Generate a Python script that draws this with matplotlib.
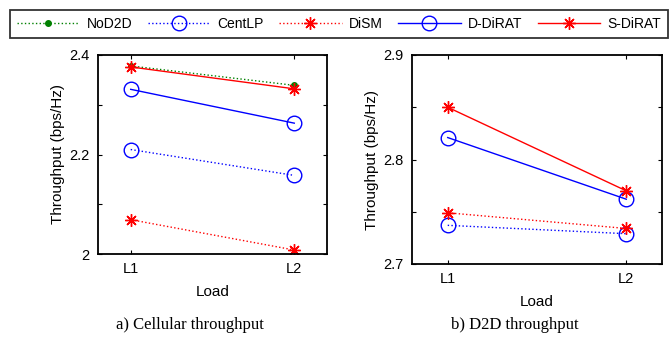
import matplotlib
matplotlib.use("Agg")
import matplotlib.pyplot as plt

plt.rcParams['font.family'] = ['Liberation Sans', 'DejaVu Sans']

loads = ["L1", "L2"]
x = [1, 2]

# Cellular throughput
cell_nod2d = [2.378, 2.339]
cell_centlp = [2.210, 2.158]
cell_dism = [2.069, 2.008]
cell_ddirat = [2.331, 2.263]
cell_sdirat = [2.376, 2.332]

# D2D throughput
d2d_centlp = [2.737, 2.729]
d2d_dism = [2.749, 2.734]
d2d_ddirat = [2.821, 2.762]
d2d_sdirat = [2.850, 2.770]

left_yticks = [2.0, 2.1, 2.2, 2.3, 2.4]
left_yticklabels = ["2", "", "2.2", "", "2.4"]
right_yticks = [2.7, 2.75, 2.8, 2.85, 2.9]
right_yticklabels = ["2.7", "", "2.8", "", "2.9"]

green = (0, 0.5, 0)
blue = (0, 0, 1)
red = (1, 0, 0)
ast = (8, 2, 0)

fig = plt.figure(figsize=(6.72, 3.37), dpi=100)
ax1 = fig.add_axes([98/672, 1-254/337, 229/672, 199/337])
ax2 = fig.add_axes([412/672, 1-264/337, 250/672, 209/337])

lw = 1.0
h1, = ax1.plot(x, cell_nod2d, ls=':', color=green, marker='o', ms=4, mfc=green, mec=green, lw=lw, label='NoD2D')
h2, = ax1.plot(x, cell_centlp, ls=':', color=blue, marker='o', ms=10.5, mfc='none', mec=blue, lw=lw, label='CentLP')
h3, = ax1.plot(x, cell_dism, ls=':', color=red, marker=ast, ms=9, mec=red, lw=lw, label='DiSM')
h4, = ax1.plot(x, cell_ddirat, ls='-', color=blue, marker='o', ms=10.5, mfc='none', mec=blue, lw=lw, label='D-DiRAT')
h5, = ax1.plot(x, cell_sdirat, ls='-', color=red, marker=ast, ms=9, mec=red, lw=lw, label='S-DiRAT')

ax2.plot(x, d2d_centlp, ls=':', color=blue, marker='o', ms=10.5, mfc='none', mec=blue, lw=lw)
ax2.plot(x, d2d_dism, ls=':', color=red, marker=ast, ms=9, mec=red, lw=lw)
ax2.plot(x, d2d_ddirat, ls='-', color=blue, marker='o', ms=10.5, mfc='none', mec=blue, lw=lw)
ax2.plot(x, d2d_sdirat, ls='-', color=red, marker=ast, ms=9, mec=red, lw=lw)

for ax, yt, ytl, ylim in [(ax1, left_yticks, left_yticklabels, (2.0, 2.4)),
                           (ax2, right_yticks, right_yticklabels, (2.7, 2.9))]:
    ax.set_xlim(0.8, 2.2)
    ax.set_ylim(*ylim)
    ax.set_xticks(x)
    ax.set_xticklabels(loads)
    ax.set_yticks(yt)
    ax.set_yticklabels(ytl)
    ax.tick_params(direction='in', length=3, width=0.8, top=True, right=True, labelsize=10.5, pad=6)
    for s in ax.spines.values():
        s.set_linewidth(1.3)
    ax.set_ylabel("Throughput (bps/Hz)", fontsize=11, labelpad=3)
    ax.set_xlabel("Load", fontsize=11, labelpad=6)

fig.text(190/672, 1-325/337, "a) Cellular throughput", family='Liberation Serif', fontsize=12, ha='center', va='center')
fig.text(515/672, 1-325/337, "b) D2D throughput", family='Liberation Serif', fontsize=12, ha='center', va='center')

leg = fig.legend(handles=[h1, h2, h3, h4, h5], loc='lower left',
                 bbox_to_anchor=(10/672, 1-38/337, 658/672, 30/337), mode='expand',
                 ncol=5, fontsize=10, frameon=True, fancybox=False, edgecolor='black',
                 handlelength=4.5, borderaxespad=0, borderpad=0.5, columnspacing=1.0, handletextpad=0.5)
leg.get_frame().set_linewidth(1.3)

fig.savefig("out.png", dpi=100)
